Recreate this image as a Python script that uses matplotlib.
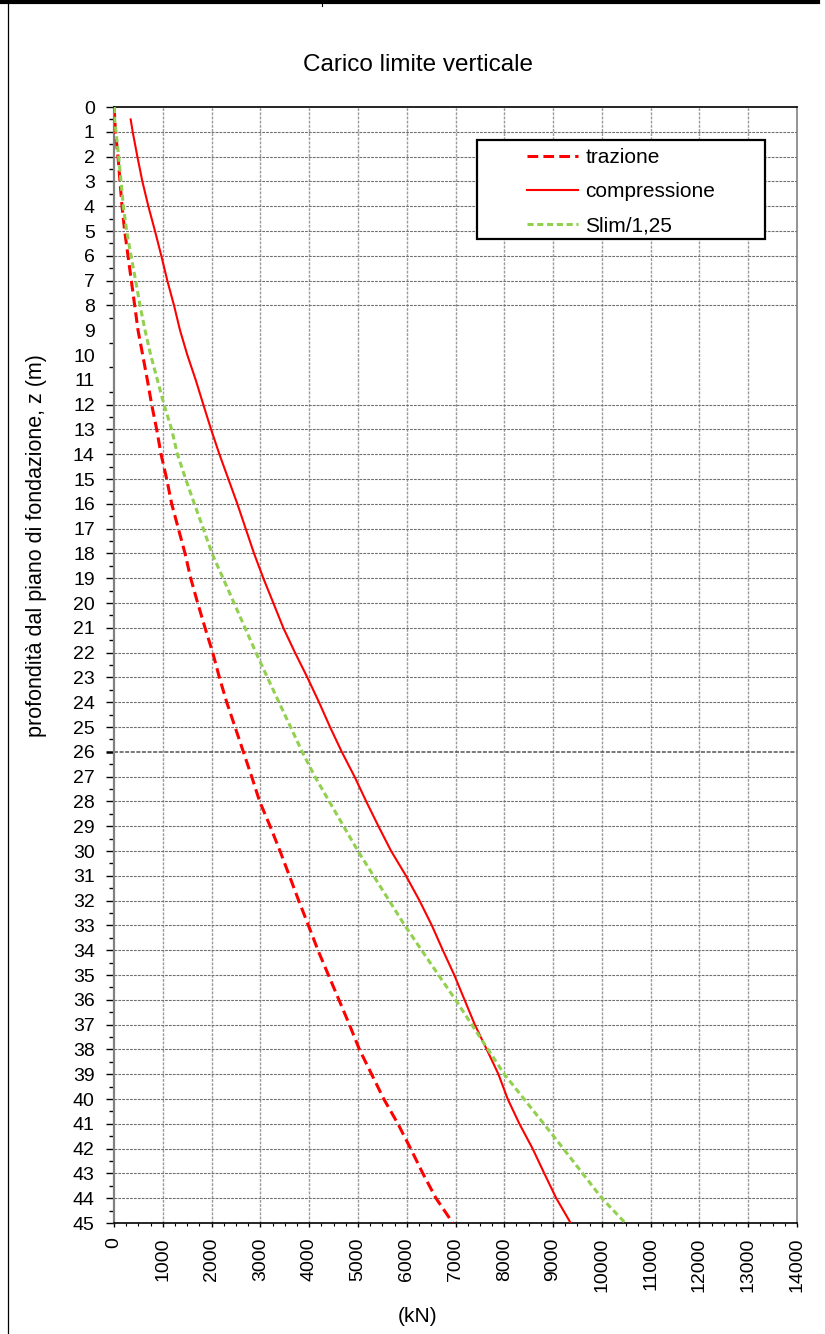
import numpy as np
import matplotlib
matplotlib.use("Agg")
import matplotlib.pyplot as plt
from matplotlib.lines import Line2D
from matplotlib.patches import Rectangle
from matplotlib.ticker import MultipleLocator, FixedLocator

plt.rcParams['font.family'] = ['Liberation Sans', 'DejaVu Sans']

# ---------------- data ----------------
depth = [0, 0.5] + list(range(1, 46))

trazione = [5, 15, 30, 82, 123, 164, 219, 287, 355, 424, 492, 588, 683, 772, 875,
            964, 1080, 1182, 1319, 1456, 1572, 1715, 1866, 2023, 2160, 2310, 2481,
            2651, 2822, 2985, 3200, 3403, 3595, 3786, 3985, 4180, 4395, 4610, 4825,
            5030, 5280, 5530, 5820, 6080, 6330, 6600, 6945]

compressione = [np.nan, 342, 383, 479, 581, 704, 840, 970, 1093, 1230, 1353, 1503,
                1674, 1831, 1990, 2160, 2344, 2528, 2699, 2870, 3061, 3266, 3470,
                3710, 3963, 4202, 4428, 4668, 4930, 5170, 5420, 5680, 5985, 6262,
                6515, 6740, 6975, 7185, 7395, 7640, 7880, 8070, 8310, 8580, 8820,
                9065, 9360]

slim = [5, 14, 41, 96, 144, 191, 260, 348, 444, 533, 636, 752, 889, 1025, 1182,
        1300, 1469, 1647, 1831, 2008, 2235, 2460, 2685, 2910, 3143, 3381, 3619,
        3857, 4118, 4412, 4706, 5000, 5320, 5640, 5960, 6305, 6652, 7000, 7333,
        7667, 8000, 8405, 8810, 9210, 9605, 10000, 10480]

labels = ["trazione", "compressione", "Slim/1,25"]
x_ticks = list(range(0, 14001, 1000))
y_ticks = list(range(0, 46))
hidden_y_grid = [9, 10, 11]
bold_y_grid = [26]

W, H = 825, 1334
fig = plt.figure(figsize=(W / 100, H / 100), dpi=100)

def fx(px):
    return px / W

def fy(py):
    return 1 - py / H

ax_l, ax_r, ax_t, ax_b = 114, 797, 107, 1223
ax = fig.add_axes([fx(ax_l), fy(ax_b), (ax_r - ax_l) / W, (ax_b - ax_t) / H])

red = '#FF0000'
green = '#92D050'

ax.plot(trazione, depth, color=red, lw=2.2, dashes=(3.5, 1.7), label=labels[0], zorder=3)
ax.plot(compressione, depth, color=red, lw=1.5, label=labels[1], zorder=3)
ax.plot(slim, depth, color=green, lw=2.2, dashes=(2.0, 1.2), label=labels[2], zorder=3)

ax.set_xlim(0, 14000)
ax.set_ylim(45, 0)

ax.xaxis.set_major_locator(FixedLocator(x_ticks))
ax.xaxis.set_minor_locator(MultipleLocator(250))
ax.yaxis.set_major_locator(FixedLocator(y_ticks))
ax.yaxis.set_minor_locator(MultipleLocator(0.5))
ax.set_xticklabels([str(v) for v in x_ticks], rotation=90, fontsize=14)
ax.set_yticklabels([str(v) for v in y_ticks], fontsize=14)

ax.tick_params(axis='y', which='major', direction='out', length=5.8, width=1.0,
               pad=8, color='black', left=True, right=False)
ax.tick_params(axis='y', which='minor', direction='out', length=3.6, width=1.0,
               color='black', left=True, right=False)
ax.tick_params(axis='x', which='major', direction='out', length=3.2, width=1.0,
               pad=7, color='black', bottom=True, top=False)
ax.tick_params(axis='x', which='minor', direction='out', length=2.2, width=0.8,
               color='black', bottom=True, top=False)

ax.grid(True, axis='x', which='major', color='#9a9a9a', lw=1.0, dashes=(2.0, 1.0))
ax.grid(True, axis='y', which='major', color='#707070', lw=0.8, dashes=(2.5, 1.0))
ax.set_axisbelow(True)

for t, v in zip(ax.yaxis.get_major_ticks(), y_ticks):
    if v in hidden_y_grid:
        t.gridline.set_visible(False)
        t.tick1line.set_visible(False)
    if v in bold_y_grid:
        t.gridline.set_linewidth(1.15)
        t.gridline.set_color('#5a5a5a')
        t.tick1line.set_markeredgewidth(1.8)
    if v == 0 or v == 45:
        t.gridline.set_visible(False)

for t, v in zip(ax.xaxis.get_major_ticks(), x_ticks):
    if v == 0 or v == 14000:
        t.gridline.set_visible(False)

ax.spines['top'].set_color('black')
ax.spines['top'].set_linewidth(1.2)
ax.spines['bottom'].set_color('black')
ax.spines['bottom'].set_linewidth(1.2)
ax.spines['left'].set_color('#808080')
ax.spines['left'].set_linewidth(1.6)
ax.spines['right'].set_color('#808080')
ax.spines['right'].set_linewidth(1.2)

ax.set_ylabel("profondità dal piano di fondazione, z (m)", fontsize=15.5)
ax.yaxis.set_label_coords((47 - ax_l) / (ax_r - ax_l), (ax_b - 546) / (ax_b - ax_t))

fig.text(fx(418), fy(1316), "(kN)", ha='center', va='center', fontsize=15)
fig.text(fx(418), fy(65), "Carico limite verticale", ha='center', va='center', fontsize=17.5)

# legend box
lx0, lx1, ly0, ly1 = 477, 765, 140, 239
rect = Rectangle((fx(lx0), fy(ly1)), (lx1 - lx0) / W, (ly1 - ly0) / H,
                 transform=fig.transFigure, facecolor='white', edgecolor='black',
                 lw=1.6, zorder=5)
ax.add_artist(rect)
rect.set_clip_on(False)
leg = ax.legend(loc='upper left', bbox_to_anchor=(fx(527), fy(148)),
                bbox_transform=fig.transFigure, frameon=False, fontsize=15,
                borderpad=0, borderaxespad=0, handlelength=2.45, handletextpad=0.34,
                labelspacing=0.72)
leg.set_zorder(6)

# page frame
fig.add_artist(Line2D([0, fx(818)], [fy(2), fy(2)], color='black', lw=3.0,
                      transform=fig.transFigure))
fig.add_artist(Line2D([fx(8), fx(8)], [fy(4), 0], color='black', lw=0.9,
                      transform=fig.transFigure))
fig.add_artist(Line2D([fx(322), fx(322)], [1, fy(6)], color='black', lw=0.8,
                      transform=fig.transFigure))

fig.savefig("out.png", dpi=100)
